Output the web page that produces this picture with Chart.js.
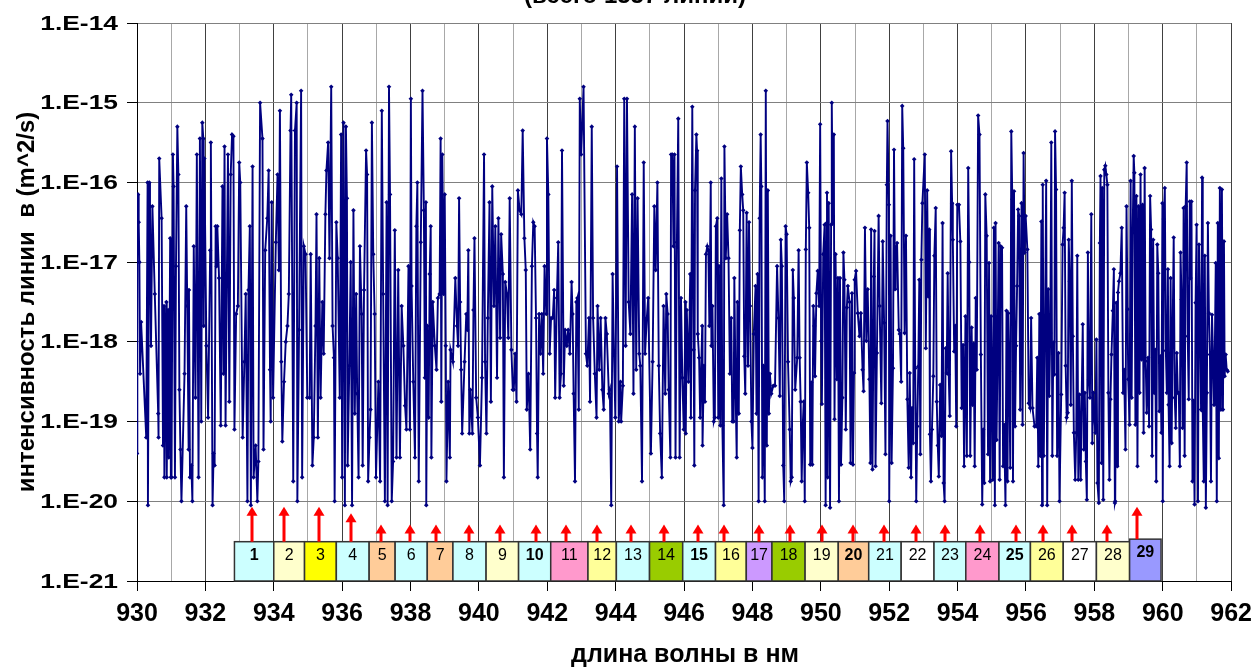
<!DOCTYPE html>
<html><head><meta charset="utf-8">
<script src="https://cdn.jsdelivr.net/npm/chart.js@4"></script>
<style>html,body{margin:0;padding:0;background:#fff;}canvas{display:block;}</style>
</head><body>
<canvas id="c" width="1260" height="669"></canvas>
<script>
const titleText = '(всего 1557 линии)';
const xAxisTitle = 'длина волны в нм';
const yAxisTitle = 'интенсивность линии  в (m^2/s)';
const xMin = 930, xMax = 962;
const yDecades = [-21, -20, -19, -18, -17, -16, -15, -14];

// [wavelength nm, log10 intensity]
const lines930_937 = [
[930.00,-19.4],[930.01,-16.8],[930.03,-16.15],[930.05,-16.5],[930.07,-17.0],[930.09,-18.4],[930.12,-17.75],[930.27,-19.2],[930.31,-16.0],[930.32,-20.05],[930.36,-16.0],[930.38,-16.3],[930.41,-18.05],[930.45,-16.3],[930.52,-17.4],[930.62,-18.9],[930.63,-19.2],[930.65,-15.7],[930.72,-16.45],[930.76,-19.3],[930.79,-17.55],[930.80,-19.7],[930.86,-17.5],[930.87,-19.7],[930.91,-17.6],[930.93,-19.45],[930.97,-16.7],[930.99,-19.7],
[931.01,-19.7],[931.05,-15.65],[931.07,-16.05],[931.11,-19.7],[931.14,-17.05],[931.18,-15.3],[931.21,-15.9],[931.24,-18.6],[931.27,-19.35],[931.30,-20.0],[931.39,-18.4],[931.44,-16.3],[931.47,-17.55],[931.51,-19.35],[931.52,-17.35],[931.55,-19.7],[931.59,-19.55],[931.62,-20.0],[931.66,-16.8],[931.71,-18.7],[931.75,-15.65],[931.80,-19.7],[931.84,-15.45],[931.88,-19.0],[931.91,-15.25],[931.94,-15.45],[931.95,-17.8],[931.97,-15.7],
[932.03,-18.05],[932.08,-18.95],[932.14,-16.85],[932.16,-15.5],[932.21,-20.05],[932.24,-19.4],[932.27,-19.55],[932.30,-16.55],[932.33,-17.05],[932.35,-16.55],[932.40,-17.2],[932.45,-19.05],[932.50,-16.05],[932.53,-18.4],[932.56,-15.55],[932.59,-19.05],[932.66,-15.65],[932.70,-18.75],[932.74,-15.9],[932.78,-15.4],[932.82,-15.42],[932.85,-19.1],[932.90,-17.65],[932.95,-17.55],[932.99,-15.75],
[933.02,-16.0],[933.09,-19.2],[933.14,-18.25],[933.18,-17.4],[933.23,-20.0],[933.26,-17.35],[933.30,-16.55],[933.33,-20.05],[933.38,-15.8],[933.41,-19.7],[933.47,-19.3],[933.52,-20.0],[933.55,-19.5],[933.60,-15.0],[933.67,-15.45],[933.70,-19.35],[933.75,-16.85],[933.81,-16.45],[933.85,-15.85],[933.89,-18.35],[933.91,-19.0],[933.94,-16.25],[933.98,-18.7],
[934.06,-16.75],[934.11,-15.9],[934.15,-17.1],[934.18,-15.1],[934.22,-18.25],[934.25,-19.25],[934.30,-18.5],[934.35,-18.0],[934.40,-17.8],[934.44,-17.4],[934.49,-15.35],[934.51,-14.9],[934.57,-19.75],[934.62,-15.35],[934.67,-15.0],[934.69,-20.0],[934.74,-17.85],[934.80,-14.85],[934.83,-19.7],[934.88,-16.8],[934.93,-16.9],[934.98,-18.7],
[935.05,-18.7],[935.08,-16.9],[935.13,-19.55],[935.17,-19.2],[935.22,-17.8],[935.25,-16.4],[935.29,-19.2],[935.33,-16.95],[935.37,-18.7],[935.42,-17.5],[935.46,-18.15],[935.51,-16.4],[935.54,-15.85],[935.59,-15.5],[935.63,-16.95],[935.68,-14.8],[935.72,-17.8],[935.76,-18.2],[935.78,-20.0],[935.83,-16.5],[935.87,-16.95],[935.93,-18.7],[935.97,-15.4],[936.00,-19.7],
[936.04,-15.25],[936.08,-20.05],[936.11,-15.3],[936.14,-16.2],[936.16,-19.55],[936.21,-18.3],[936.25,-17.0],[936.29,-20.05],[936.33,-16.35],[936.37,-18.9],[936.41,-17.4],[936.44,-18.65],[936.48,-19.7],[936.52,-16.8],[936.57,-17.65],[936.60,-19.55],[936.64,-17.35],[936.70,-15.6],[936.73,-15.9],[936.76,-19.75],[936.80,-19.2],[936.83,-18.85],[936.87,-15.25],[936.91,-16.9],[936.95,-17.65],[936.99,-19.7],
[937.06,-18.5],[937.11,-19.75],[937.16,-15.1],[937.20,-17.4],[937.25,-20.0],[937.30,-16.25],[937.33,-20.05],[937.37,-14.8],[937.40,-16.15],[937.45,-20.0],[937.49,-19.5],[937.54,-16.6],[937.59,-19.45],[937.64,-17.1],[937.69,-19.45],[937.74,-17.55],[937.79,-18.05],[937.84,-18.8],[937.88,-19.1],[937.94,-17.05],[937.98,-19.1]
];
const lines938_945 = [
[938.01,-14.95],[938.03,-17.3],[938.08,-18.5],[938.13,-19.45],[938.17,-16.55],[938.20,-16.0],[938.24,-19.75],[938.30,-16.75],[938.35,-14.85],[938.39,-16.35],[938.42,-18.45],[938.45,-16.25],[938.46,-20.05],[938.49,-17.8],[938.53,-18.95],[938.56,-17.15],[938.59,-16.55],[938.61,-19.45],[938.65,-17.5],[938.71,-18.05],[938.76,-18.35],[938.80,-17.45],[938.85,-17.4],[938.88,-15.45],[938.90,-18.75],[938.93,-15.65],[938.97,-17.4],[939.00,-16.15],
[939.03,-18.05],[939.05,-19.75],[939.10,-18.5],[939.15,-19.45],[939.17,-18.1],[939.24,-18.25],[939.31,-17.2],[939.36,-17.8],[939.39,-18.05],[939.42,-16.2],[939.45,-17.5],[939.48,-18.35],[939.51,-19.15],[939.58,-18.25],[939.63,-17.65],[939.66,-17.85],[939.69,-16.85],[939.72,-19.15],[939.75,-18.6],[939.81,-19.15],[939.84,-17.6],[939.87,-16.7],[939.92,-18.7],[939.97,-18.95],
[940.03,-19.55],[940.09,-18.45],[940.15,-15.65],[940.18,-18.25],[940.22,-19.15],[940.26,-17.7],[940.31,-16.25],[940.35,-18.75],[940.39,-16.05],[940.44,-17.55],[940.48,-16.55],[940.53,-18.45],[940.57,-16.45],[940.62,-17.95],[940.65,-16.65],[940.70,-17.15],[940.73,-19.7],[940.77,-17.25],[940.82,-17.4],[940.86,-17.95],[940.90,-16.2],[940.95,-18.1],[940.99,-18.6],
[941.02,-18.6],[941.06,-18.15],[941.10,-18.75],[941.14,-16.1],[941.19,-16.35],[941.24,-16.4],[941.28,-15.35],[941.33,-16.7],[941.37,-17.1],[941.40,-18.85],[941.45,-18.4],[941.50,-19.35],[941.55,-17.05],[941.59,-16.5],[941.63,-16.55],[941.67,-17.7],[941.70,-19.15],[941.72,-19.7],[941.76,-17.65],[941.80,-18.15],[941.84,-17.65],[941.88,-18.4],[941.92,-17.05],[941.97,-17.65],[941.99,-15.45],
[942.03,-16.15],[942.07,-18.15],[942.11,-17.7],[942.16,-17.7],[942.20,-17.35],[942.23,-18.7],[942.28,-17.45],[942.32,-16.75],[942.36,-18.7],[942.40,-18.4],[942.43,-15.6],[942.48,-18.55],[942.52,-17.85],[942.57,-18.05],[942.61,-17.85],[942.66,-18.15],[942.71,-17.25],[942.74,-17.65],[942.77,-18.65],[942.81,-19.75],[942.85,-17.5],[942.88,-17.45],[942.92,-18.85],[942.95,-14.95],[942.99,-15.65],
[943.06,-14.8],[943.13,-18.15],[943.17,-18.3],[943.22,-17.7],[943.25,-18.75],[943.30,-15.3],[943.34,-17.7],[943.39,-18.4],[943.44,-18.95],[943.47,-17.55],[943.52,-18.35],[943.56,-17.7],[943.61,-18.6],[943.65,-18.85],[943.70,-17.7],[943.74,-17.9],[943.80,-18.65],[943.83,-18.6],[943.87,-20.05],[943.91,-17.15],[943.95,-18.15],[943.99,-18.95],
[944.04,-15.8],[944.09,-19.0],[944.14,-18.5],[944.16,-19.0],[944.21,-18.55],[944.25,-14.95],[944.29,-18.05],[944.33,-14.95],[944.38,-17.5],[944.43,-17.9],[944.48,-16.15],[944.52,-18.65],[944.56,-15.3],[944.60,-18.35],[944.64,-16.2],[944.69,-18.15],[944.72,-18.3],[944.77,-19.75],[944.82,-15.75],[944.86,-18.15],[944.91,-17.7],[944.95,-17.45],
[945.03,-19.4],[945.08,-18.25],[945.13,-16.3],[945.17,-17.1],[945.22,-16.0],[945.26,-18.3],[945.30,-19.15],[945.35,-19.7],[945.40,-17.55],[945.45,-18.65],[945.48,-17.4],[945.52,-17.65],[945.55,-18.6],[945.60,-19.45],[945.62,-15.65],[945.66,-15.65],[945.69,-16.8],[945.72,-15.65],[945.75,-19.45],[945.79,-16.75],[945.83,-15.2],[945.87,-19.45],[945.91,-17.45],[945.95,-18.45],[945.99,-19.1]
];
const lines946_953 = [
[946.01,-18.65],[946.04,-17.5],[946.05,-19.15],[946.08,-17.6],[946.13,-18.5],[946.18,-17.15],[946.20,-18.95],[946.24,-15.05],[946.28,-18.1],[946.30,-19.55],[946.32,-16.1],[946.36,-15.4],[946.38,-15.6],[946.40,-17.9],[946.44,-18.2],[946.47,-18.95],[946.50,-18.35],[946.53,-17.8],[946.54,-19.3],[946.58,-18.3],[946.61,-18.75],[946.64,-16.9],[946.68,-16.8],[946.71,-16.85],[946.74,-17.8],[946.78,-16.0],[946.80,-18.05],[946.83,-17.55],[946.87,-19.0],[946.90,-18.95],[946.93,-16.55],[946.97,-16.45],[947.00,-18.95],
[947.02,-17.05],[947.06,-19.05],[947.09,-15.95],[947.12,-19.05],[947.16,-20.05],[947.18,-15.55],[947.22,-16.95],[947.26,-16.4],[947.30,-16.95],[947.34,-18.4],[947.38,-17.7],[947.41,-19.0],[947.45,-19.0],[947.47,-17.2],[947.51,-18.7],[947.54,-19.45],[947.56,-17.5],[947.60,-18.9],[947.63,-16.6],[947.66,-15.8],[947.70,-16.15],[947.73,-16.35],[947.76,-18.18],[947.79,-18.65],[947.83,-16.38],[947.87,-18.3],[947.90,-16.5],[947.93,-17.55],[947.97,-19.0],[948.00,-19.33],
[948.04,-17.9],[948.09,-17.3],[948.12,-18.9],[948.15,-17.15],[948.18,-20.0],[948.21,-16.45],[948.24,-15.4],[948.26,-16.05],[948.29,-19.7],[948.32,-18.3],[948.36,-20.0],[948.39,-14.85],[948.42,-19.3],[948.45,-16.1],[948.48,-18.9],[948.51,-18.4],[948.55,-18.65],[948.61,-18.55],[948.66,-18.55],[948.72,-17.05],[948.76,-17.7],[948.80,-18.68],[948.83,-16.72],[948.86,-17.05],[948.90,-19.55],[948.93,-20.0],[948.97,-16.55],[949.00,-16.65],
[949.04,-18.25],[949.09,-19.1],[949.12,-19.75],[949.15,-19.7],[949.18,-17.1],[949.21,-17.45],[949.25,-18.6],[949.31,-18.2],[949.35,-16.85],[949.38,-18.2],[949.41,-18.75],[949.44,-19.75],[949.47,-19.05],[949.50,-18.75],[949.53,-20.0],[949.56,-16.84],[949.59,-15.75],[949.63,-16.13],[949.66,-16.57],[949.69,-19.54],[949.72,-18.51],[949.75,-19.54],[949.78,-17.55],[949.81,-17.8],[949.83,-18.43],[949.87,-17.39],[949.91,-17.11],[949.95,-17.55],[949.98,-15.27],[950.01,-17.99],
[950.03,-18.78],[950.07,-16.9],[950.11,-16.53],[950.14,-20.05],[950.17,-16.51],[950.18,-16.13],[950.20,-19.7],[950.23,-16.26],[950.27,-20.08],[950.30,-16.53],[950.32,-15.0],[950.35,-16.51],[950.38,-15.4],[950.40,-18.97],[950.43,-16.9],[950.47,-18.47],[950.50,-17.2],[950.53,-20.0],[950.56,-17.2],[950.59,-19.54],[950.63,-18.7],[950.66,-16.88],[950.69,-17.22],[950.73,-19.1],[950.76,-17.57],[950.79,-17.3],[950.84,-17.5],[950.87,-19.52],[950.91,-17.39],[950.94,-19.54],[950.97,-18.39],[950.99,-17.22],
[951.03,-17.11],[951.08,-17.64],[951.13,-17.93],[951.17,-17.64],[951.22,-18.35],[951.25,-18.62],[951.29,-16.57],[951.33,-17.99],[951.37,-17.34],[951.42,-18.47],[951.45,-19.52],[951.47,-16.59],[951.51,-19.6],[951.55,-17.18],[951.57,-16.61],[951.60,-19.56],[951.64,-18.14],[951.69,-16.42],[951.72,-17.55],[951.77,-18.77],[951.81,-16.74],[951.85,-17.76],[951.89,-19.41],[951.93,-16.03],[951.95,-15.23],[951.99,-16.28],[952.00,-20.0],
[952.04,-16.67],[952.07,-19.52],[952.11,-18.33],[952.14,-15.59],[952.17,-17.34],[952.19,-16.86],[952.23,-16.76],[952.28,-17.85],[952.31,-17.9],[952.35,-18.5],[952.38,-15.04],[952.41,-15.57],[952.45,-17.89],[952.49,-16.67],[952.53,-18.72],[952.57,-19.58],[952.60,-18.39],[952.64,-19.7],[952.67,-18.83],[952.70,-19.27],[952.73,-15.71],[952.76,-18.33],[952.79,-20.0],[952.82,-19.06],[952.85,-18.31],[952.88,-17.22],[952.91,-19.41],[952.94,-16.97],[952.97,-16.26],
[953.04,-15.65],[953.07,-18.08],[953.11,-16.1],[953.14,-17.43],[953.17,-16.59],[953.19,-19.16],[953.22,-19.75],[953.25,-19.1],[953.29,-18.43],[953.32,-16.92],[953.36,-16.32],[953.39,-18.75],[953.42,-19.3],[953.45,-19.69],[953.49,-18.54],[953.53,-19.18],[953.56,-16.51],[953.59,-19.77],[953.62,-20.0],[953.65,-18.08],[953.68,-18.39],[953.71,-17.14],[953.74,-18.41],[953.77,-18.93],[953.81,-15.61],[953.84,-16.26],[953.86,-16.72],[953.90,-18.12],[953.93,-17.8],[953.96,-19.06],[953.99,-16.28]
];
const lines954_961 = [
[954.04,-16.28],[954.08,-16.74],[954.12,-18.83],[954.16,-18.04],[954.19,-19.56],[954.23,-17.68],[954.27,-19.43],[954.31,-15.82],[954.34,-17.0],[954.37,-19.43],[954.41,-17.82],[954.44,-18.79],[954.47,-18.02],[954.50,-19.56],[954.53,-17.45],[954.56,-18.35],[954.60,-15.16],[954.64,-15.4],[954.68,-18.16],[954.72,-20.04],[954.75,-19.1],[954.78,-19.77],[954.81,-16.15],[954.85,-16.67],[954.89,-19.41],[954.92,-17.01],[954.95,-19.75],[954.98,-17.68],
[955.03,-19.73],[955.06,-16.57],[955.09,-20.05],[955.11,-16.51],[955.14,-19.23],[955.17,-18.05],[955.20,-16.76],[955.23,-19.73],[955.26,-16.8],[955.30,-16.82],[955.33,-19.56],[955.36,-19.04],[955.40,-20.05],[955.43,-17.61],[955.46,-19.75],[955.48,-17.64],[955.51,-18.37],[955.54,-19.58],[955.57,-15.36],[955.60,-16.21],[955.62,-19.75],[955.65,-16.11],[955.68,-19.06],[955.71,-18.05],[955.74,-17.3],[955.77,-16.34],[955.80,-16.42],[955.83,-18.85],[955.87,-16.26],[955.90,-19.04],[955.93,-15.63],[955.96,-16.88],[955.99,-16.42],
[956.04,-16.84],[956.08,-18.77],[956.12,-18.83],[956.15,-17.7],[956.19,-18.83],[956.25,-19.06],[956.30,-19.06],[956.33,-18.2],[956.36,-19.56],[956.39,-17.65],[956.42,-19.43],[956.45,-16.49],[956.47,-20.05],[956.49,-16.03],[956.52,-19.43],[956.56,-17.68],[956.59,-15.98],[956.62,-20.05],[956.65,-17.34],[956.68,-18.68],[956.71,-17.89],[956.74,-15.5],[956.77,-19.43],[956.80,-18.01],[956.83,-18.41],[956.85,-15.36],[956.88,-16.09],[956.91,-19.43],[956.95,-18.14],[956.98,-20.0],
[957.03,-18.66],[957.07,-16.78],[957.10,-16.57],[957.13,-16.13],[957.16,-18.3],[957.19,-18.95],[957.22,-18.89],[957.25,-16.72],[957.28,-17.24],[957.31,-18.79],[957.34,-15.98],[957.37,-17.93],[957.40,-19.14],[957.44,-19.73],[957.47,-19.14],[957.50,-16.92],[957.53,-19.73],[957.56,-18.66],[957.60,-19.73],[957.63,-18.66],[957.66,-17.78],[957.69,-19.35],[957.72,-18.64],[957.75,-19.5],[957.78,-19.98],[957.81,-16.88],[957.84,-18.47],[957.87,-18.7],[957.91,-16.4],[957.94,-19.27],[957.97,-18.64],[957.99,-18.89],
[958.03,-19.14],[958.06,-17.97],[958.09,-19.77],[958.13,-20.02],[958.16,-16.76],[958.18,-15.92],[958.21,-19.52],[958.23,-16.07],[958.26,-19.98],[958.29,-15.84],[958.32,-15.79],[958.35,-15.9],[958.38,-16.03],[958.41,-18.64],[958.44,-19.73],[958.47,-18.72],[958.50,-18.16],[958.54,-17.61],[958.57,-17.09],[958.60,-20.02],[958.61,-20.0],[958.64,-17.51],[958.67,-19.56],[958.69,-17.38],[958.72,-17.24],[958.76,-17.14],[958.80,-16.57],[958.84,-18.64],[958.87,-18.35],[958.91,-19.35],[958.94,-16.3],[958.97,-17.59],[958.99,-18.47],
[959.03,-19.04],[959.06,-15.98],[959.09,-18.7],[959.12,-16.63],[959.15,-15.67],[959.17,-15.88],[959.20,-19.04],[959.23,-16.17],[959.26,-19.56],[959.29,-16.3],[959.32,-18.64],[959.35,-15.9],[959.38,-18.22],[959.41,-16.28],[959.44,-19.14],[959.47,-15.82],[959.50,-18.24],[959.53,-18.89],[959.57,-18.2],[959.60,-19.06],[959.63,-16.17],[959.66,-16.59],[959.69,-19.43],[959.72,-16.72],[959.75,-18.64],[959.78,-18.1],[959.81,-19.75],[959.84,-16.78],[959.87,-17.14],[959.90,-18.87],[959.93,-18.18],[959.96,-19.14],[959.99,-16.26],[960.00,-20.0],
[960.03,-16.46],[960.06,-16.07],[960.09,-18.11],[960.12,-18.64],[960.15,-17.09],[960.17,-18.79],[960.20,-19.56],[960.23,-17.2],[960.26,-19.27],[960.29,-17.8],[960.32,-16.69],[960.35,-18.7],[960.38,-19.08],[960.41,-18.14],[960.44,-18.64],[960.47,-18.64],[960.50,-19.56],[960.52,-16.88],[960.55,-17.47],[960.58,-19.08],[960.61,-16.32],[960.64,-19.43],[960.67,-16.3],[960.70,-15.75],[960.73,-17.93],[960.76,-18.72],[960.79,-16.24],[960.81,-17.2],[960.84,-16.24],[960.87,-19.75],[960.90,-18.74],[960.93,-20.04],[960.96,-17.51],[960.99,-16.53],
[961.03,-20.0],[961.06,-16.78],[961.09,-17.72],[961.12,-18.85],[961.15,-15.94],[961.17,-18.87],[961.20,-19.75],[961.23,-16.92],[961.26,-20.08],[961.29,-18.64],[961.32,-16.51],[961.35,-17.64],[961.38,-18.16],[961.41,-19.75],[961.44,-17.66],[961.47,-18.16],[961.50,-18.79],[961.52,-18.22],[961.55,-17.01],[961.58,-20.0],[961.61,-16.51],[961.64,-19.46],[961.67,-16.07],[961.70,-18.85],[961.73,-16.09],[961.76,-18.85],[961.79,-16.74],[961.81,-18.43],[961.84,-18.16],[961.87,-18.35],[961.90,-18.37]
];

// numbered bands along the bottom
const bandLabels = ['1','2','3','4','5','6','7','8','9','10','11','12','13','14','15','16','17','18','19','20','21','22','23','24','25','26','27','28','29'];
const bandBold = ['1','10','15','20','25','29'];
const bandEdgesNm = [932.85,934.00,934.90,935.83,936.79,937.55,938.49,939.24,940.21,941.16,942.10,943.19,944.02,944.99,945.96,946.92,947.82,948.57,949.54,950.51,951.40,952.35,953.31,954.24,955.21,956.13,957.09,958.06,959.03,959.95];
const bandTopLog = [-20.507,-20.507,-20.507,-20.507,-20.507,-20.507,-20.507,-20.507,-20.507,-20.507,-20.507,-20.507,-20.507,-20.507,-20.507,-20.507,-20.507,-20.507,-20.507,-20.507,-20.507,-20.507,-20.507,-20.507,-20.507,-20.507,-20.507,-20.507,-20.475];
const bandColors = ['#ccffff','#ffffcc','#ffff00','#ccffff','#ffcc99','#ccffff','#ffcc99','#ccffff','#ffffcc','#ccffff','#ff99cc','#ffff99','#ccffff','#99cc00','#ccffff','#ffff99','#cc99ff','#99cc00','#ffffcc','#ffcc99','#ccffff','#ffffff','#ccffff','#ff99cc','#ccffff','#ffff99','#ffffff','#ffffcc','#9999ff'];
const arrowNm = [933.36,934.31,935.31,936.27,937.14,937.98,938.74,939.70,940.62,941.68,942.54,943.45,944.45,945.42,946.40,947.17,948.19,949.10,950.02,950.94,951.84,952.78,953.63,954.66,955.72,956.50,957.35,958.36,959.25];
const arrowTipLog = [-20.07,-20.07,-20.07,-20.15,-20.29,-20.29,-20.29,-20.29,-20.29,-20.29,-20.29,-20.29,-20.29,-20.29,-20.29,-20.29,-20.29,-20.29,-20.29,-20.29,-20.29,-20.29,-20.29,-20.29,-20.29,-20.29,-20.29,-20.29,-20.07];

const allLines = [].concat(lines930_937, lines938_945, lines946_953, lines954_961);
const points = allLines.map(p => ({x: p[0], y: Math.pow(10, p[1])}));

const FONT = '"Liberation Sans", Arial, sans-serif';
const yLabel = v => '1.E' + Math.round(Math.log10(v));

const overlay = {
  id: 'overlay',
  afterDatasetsDraw(chart) {
    const {ctx, scales: {x, y}} = chart;
    ctx.save();
    const bottom = y.getPixelForValue(1e-21);
    for (let i = 0; i < bandLabels.length; i++) {
      const x0 = x.getPixelForValue(bandEdgesNm[i]);
      const x1 = x.getPixelForValue(bandEdgesNm[i + 1]);
      const top = y.getPixelForValue(Math.pow(10, bandTopLog[i]));
      ctx.fillStyle = bandColors[i];
      ctx.fillRect(x0, top, x1 - x0, bottom - top);
      ctx.strokeStyle = '#333333';
      ctx.lineWidth = 1.5;
      ctx.strokeRect(x0, top, x1 - x0, bottom - top);
      const bold = bandBold.includes(bandLabels[i]);
      ctx.fillStyle = '#000';
      ctx.font = (bold ? 'bold ' : '') + '16px ' + FONT;
      ctx.textAlign = 'center';
      ctx.textBaseline = 'middle';
      ctx.fillText(bandLabels[i], (x0 + x1) / 2, top + 13.5);
    }
    for (let i = 0; i < arrowNm.length; i++) {
      const ax = Math.round(x.getPixelForValue(arrowNm[i]));
      const tip = y.getPixelForValue(Math.pow(10, arrowTipLog[i]));
      const base = y.getPixelForValue(Math.pow(10, bandTopLog[i]));
      ctx.fillStyle = '#ff0000';
      ctx.fillRect(ax - 1.5, tip + 8, 3, base - tip - 8);
      ctx.beginPath();
      ctx.moveTo(ax, tip);
      ctx.lineTo(ax - 5.5, tip + 9);
      ctx.lineTo(ax + 5.5, tip + 9);
      ctx.closePath();
      ctx.fill();
    }
    ctx.restore();
  },
  afterDraw(chart) {
    const {ctx, scales: {y}} = chart;
    ctx.save();
    ctx.fillStyle = '#000';
    // y tick labels (wide Arial as in the picture)
    ctx.font = 'bold 20px ' + FONT;
    ctx.textAlign = 'right';
    ctx.textBaseline = 'middle';
    y.ticks.forEach(t => {
      const py = y.getPixelForValue(t.value);
      ctx.save();
      ctx.translate(118, py + 1);
      ctx.scale(1.32, 1);
      ctx.fillText(yLabel(t.value), 0, 0);
      ctx.restore();
    });
    ctx.textAlign = 'center';
    // title (cut at the top edge)
    ctx.font = 'bold 24px ' + FONT;
    ctx.textBaseline = 'alphabetic';
    ctx.fillText(titleText, 635, 3);
    // x axis title
    ctx.font = 'bold 25px ' + FONT;
    ctx.textBaseline = 'middle';
    ctx.fillText(xAxisTitle, 685, 655);
    // y axis title
    ctx.font = 'bold 24px ' + FONT;
    ctx.translate(27, 302);
    ctx.rotate(-Math.PI / 2);
    ctx.fillText(yAxisTitle, 0, 0);
    ctx.restore();
  }
};

new Chart(document.getElementById('c'), {
  type: 'scatter',
  data: {
    datasets: [{
      data: points,
      showLine: true,
      borderColor: '#000080',
      backgroundColor: '#000080',
      borderWidth: 1.9,
      pointStyle: 'rectRot',
      pointRadius: 2.3,
      pointBorderWidth: 0,
      tension: 0
    }]
  },
  options: {
    responsive: false,
    animation: false,
    devicePixelRatio: 1,
    layout: {padding: {top: 23, right: 22, left: 0, bottom: 0}},
    plugins: {legend: {display: false}, tooltip: {enabled: false}},
    scales: {
      x: {
        type: 'linear',
        min: xMin,
        max: xMax,
        ticks: {
          stepSize: 1,
          autoSkip: false,
          maxRotation: 0,
          padding: 8,
          color: '#000',
          font: {family: FONT, size: 25, weight: 'bold'},
          callback: v => (v % 2 === 0 ? String(v) : '')
        },
        grid: {
          color: c => (c.tick && c.tick.value % 2 === 0 ? '#404040' : '#a8a8a8'),
          tickColor: c => (c.tick && c.tick.value % 2 === 0 ? '#000' : 'rgba(0,0,0,0)'),
          tickLength: 10,
          lineWidth: 1
        },
        border: {color: '#000', width: 1},
        afterFit: s => { s.height = 88; }
      },
      y: {
        type: 'logarithmic',
        min: 1e-21,
        max: 1e-14,
        afterBuildTicks: s => { s.ticks = yDecades.map(d => ({value: Math.pow(10, d)})); },
        ticks: {display: false, callback: yLabel},
        grid: {color: '#808080', tickColor: '#000', tickLength: 10, lineWidth: 1},
        border: {color: '#000', width: 1},
        afterFit: s => { s.width = 137; }
      }
    }
  },
  plugins: [overlay]
});
</script>
</body></html>
